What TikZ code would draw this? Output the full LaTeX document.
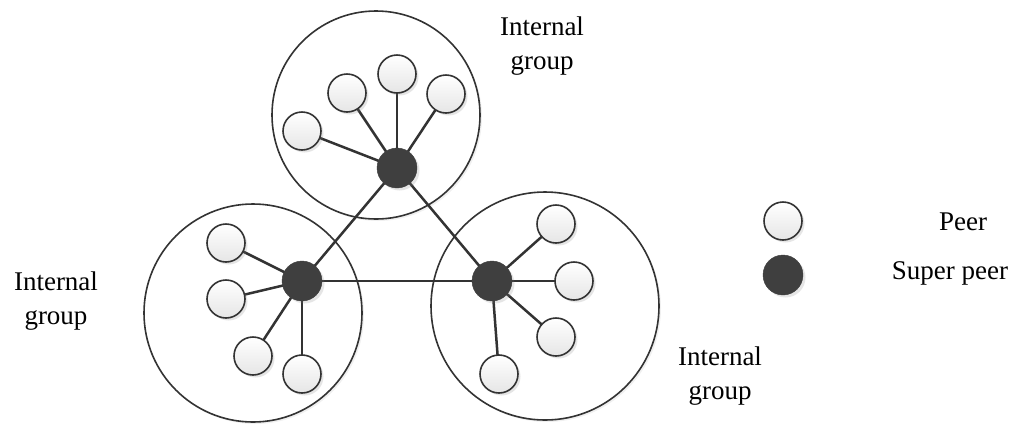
\documentclass[tikz,border=0pt]{standalone}
\usepackage{fontspec}
\setmainfont{Liberation Serif}
\usetikzlibrary{shadows}
\pgfdeclarelayer{circ}
\pgfdeclarelayer{links}
\pgfsetlayers{circ,links,main}
\definecolor{edgec}{HTML}{333333}
\definecolor{darkfill}{HTML}{3F3F3F}
\begin{document}
\begin{tikzpicture}[x=1pt,y=-1pt,
  groupc/.style={circle,draw=edgec,line width=1.6pt,fill=white,inner sep=0pt,
    drop shadow={opacity=0.12,shadow xshift=2pt,shadow yshift=-2pt}},
  peer/.style={circle,draw=edgec,line width=1.6pt,top color=white,bottom color=black!10,
    minimum size=38pt,inner sep=0pt,
    drop shadow={opacity=0.2,shadow xshift=2.5pt,shadow yshift=-2.5pt}},
  speer/.style={circle,draw=darkfill,fill=darkfill,minimum size=40pt,inner sep=0pt,
    drop shadow={opacity=0.2,shadow xshift=2.5pt,shadow yshift=-2.5pt}},
  link/.style={draw=edgec,line width=2.5pt},
  lbl/.style={font=\fontsize{27}{34}\selectfont,align=center,inner sep=0pt}]
\useasboundingbox (0,0) rectangle (1020,424);
% group circles
\begin{pgfonlayer}{circ}
\node[groupc,minimum size=208pt] (gt) at (376,115) {};
\node[groupc,minimum size=218pt] (gl) at (253,313) {};
\node[groupc,minimum size=228pt] (gr) at (545,306) {};
\end{pgfonlayer}
% super peers
\node[speer] (st) at (397,168) {};
\node[speer] (sl) at (302,281) {};
\node[speer] (sr) at (492,281) {};
% peers
\node[peer] (t1) at (302,131) {};
\node[peer] (t2) at (347,93) {};
\node[peer] (t3) at (397,74) {};
\node[peer] (t4) at (446,94) {};
\node[peer] (l1) at (226,243) {};
\node[peer] (l2) at (226,299) {};
\node[peer] (l3) at (253,356) {};
\node[peer] (l4) at (302,374) {};
\node[peer] (r1) at (556,224) {};
\node[peer] (r2) at (574,281) {};
\node[peer] (r3) at (556,337) {};
\node[peer] (r4) at (499,374) {};
% links
\begin{pgfonlayer}{links}
\foreach \p in {t1,t2,t3,t4} \draw[link] (st.center) -- (\p.center);
\foreach \p in {l1,l2,l3,l4} \draw[link] (sl.center) -- (\p.center);
\foreach \p in {r1,r2,r3,r4} \draw[link] (sr.center) -- (\p.center);
\draw[link] (st.center) -- (sl.center);
\draw[link] (st.center) -- (sr.center);
\draw[link] (sl.center) -- (sr.center);
\end{pgfonlayer}
% labels
\node[lbl] (lt) at (542,46) {Internal\\group};
\node[lbl] (ll) at (56,301) {Internal\\group};
\node[lbl] (lr) at (720,376) {Internal\\group};
% legend
\node[peer] (lgp) at (783,221) {};
\node[speer] (lgs) at (783,275) {};
\node[lbl] (tp) at (963,222) {Peer};
\node[lbl] (ts) at (950,273) {Super peer};
\end{tikzpicture}
\end{document}
